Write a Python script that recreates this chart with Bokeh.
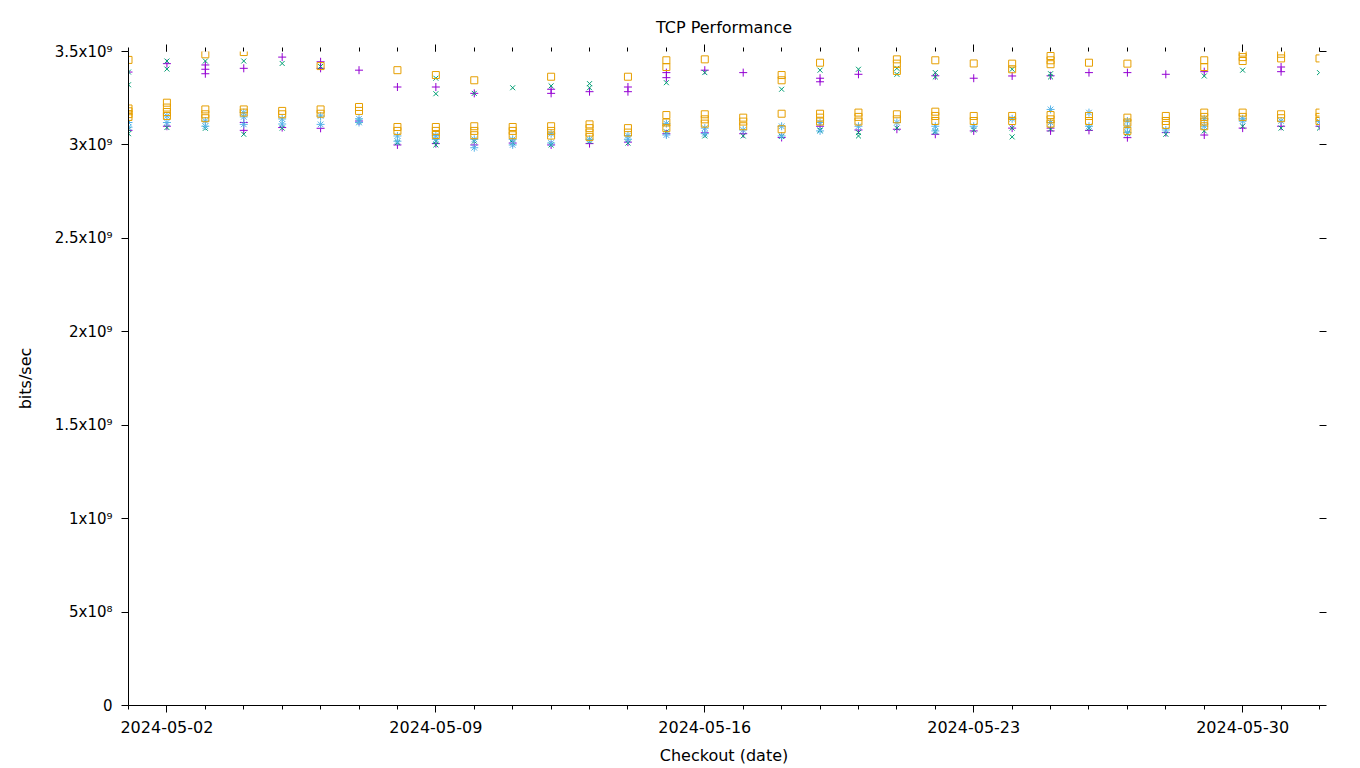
from datetime import datetime
from bokeh.plotting import figure
from bokeh.models import (FixedTicker, DatetimeTickFormatter, DatetimeAxis, LinearAxis,
                          ColumnDataSource, Range1d)
from bokeh.embed import file_html
from bokeh.resources import INLINE

UNIT = 1e9  # values below are in units of 10^9 bits/sec

dates = ["2024-05-01", "2024-05-02", "2024-05-03", "2024-05-04", "2024-05-05", "2024-05-06",
         "2024-05-07", "2024-05-08", "2024-05-09", "2024-05-10", "2024-05-11", "2024-05-12",
         "2024-05-13", "2024-05-14", "2024-05-15", "2024-05-16", "2024-05-17", "2024-05-18",
         "2024-05-19", "2024-05-20", "2024-05-21", "2024-05-22", "2024-05-23", "2024-05-24",
         "2024-05-25", "2024-05-26", "2024-05-27", "2024-05-28", "2024-05-29", "2024-05-30",
         "2024-05-31", "2024-06-01"]

# purple "+"
plus_vals = [
    [3.39, 3.078], [3.435, 3.10], [3.428, 3.405, 3.381], [3.41, 3.12, 3.078],
    [3.47, 3.093], [3.445, 3.41, 3.089], [3.40, 3.128], [3.31, 3.00],
    [3.31, 3.007], [3.276, 3.00], [3.01], [3.298, 3.276, 3.00],
    [3.285, 3.007], [3.31, 3.285, 3.015], [3.387, 3.36, 3.06], [3.40, 3.065],
    [3.387, 3.06], [3.04], [3.357, 3.338, 3.10], [3.378, 3.08],
    [3.084], [3.37, 3.057], [3.357, 3.075], [3.369, 3.09],
    [3.37, 3.075, 3.09], [3.387, 3.078], [3.387, 3.039], [3.378, 3.066],
    [3.392, 3.053], [3.09], [3.417, 3.392, 3.10], [3.10],
]

# green "x"
x_vals = [
    [3.39, 3.322, 3.084, 3.06], [3.449, 3.406, 3.093], [3.449, 3.089], [3.449, 3.057],
    [3.436, 3.09], [3.42], [3.125], [3.012],
    [3.357, 3.274, 3.02, 3.00], [3.276, 3.02], [3.306, 3.012], [3.316, 3.00],
    [3.328, 3.306, 3.02], [3.01], [3.333, 3.07], [3.387, 3.048],
    [3.048], [3.298, 3.045], [3.40, 3.08], [3.405, 3.066, 3.048],
    [3.41, 3.378, 3.09], [3.387, 3.364, 3.07], [3.08], [3.405, 3.09, 3.043],
    [3.381, 3.364, 3.085], [3.09], [3.06], [3.057],
    [3.369, 3.075], [3.40, 3.10], [3.09], [3.387, 3.09],
]

# light blue "*"
star_vals = [
    [3.12, 3.095], [3.155, 3.12], [3.128, 3.10], [3.173, 3.15, 3.11],
    [3.139, 3.112], [3.155, 3.11], [3.14, 3.12], [3.048, 3.02],
    [3.05, 3.03], [3.03, 2.985], [3.03, 3.00], [3.06, 3.01],
    [3.03], [3.05, 3.03], [3.114, 3.053], [3.09, 3.06],
    [3.08], [3.10, 3.048], [3.12, 3.075], [3.10],
    [3.12], [3.10, 3.075], [3.10], [3.14],
    [3.19, 3.12], [3.173, 3.10], [3.128, 3.096, 3.066], [3.08],
    [3.14, 3.10], [3.14, 3.128], [3.128], [3.125],
]

# orange open square
square_vals = [
    [3.455, 3.195, 3.18, 3.165, 3.15], [3.226, 3.20, 3.176, 3.155], [3.485, 3.19, 3.164, 3.143],
    [3.497, 3.19, 3.173], [3.182, 3.164], [3.422, 3.19, 3.167], [3.203, 3.182],
    [3.40, 3.096, 3.075], [3.374, 3.096, 3.075, 3.053], [3.346, 3.10, 3.075, 3.052],
    [3.096, 3.075, 3.052], [3.365, 3.10, 3.075, 3.05], [3.11, 3.09, 3.066, 3.043],
    [3.365, 3.09, 3.066], [3.453, 3.417, 3.16, 3.12, 3.09], [3.458, 3.164, 3.137, 3.114],
    [3.146, 3.125, 3.10], [3.374, 3.346, 3.167, 3.084], [3.44, 3.167, 3.146, 3.125],
    [3.173, 3.15, 3.125], [3.458, 3.435, 3.396, 3.164, 3.137], [3.453, 3.178, 3.155, 3.128],
    [3.436, 3.155, 3.128], [3.435, 3.405, 3.155, 3.128], [3.476, 3.453, 3.432, 3.16, 3.137, 3.114],
    [3.44, 3.155, 3.128], [3.435, 3.146, 3.12, 3.075], [3.155, 3.128, 3.107],
    [3.453, 3.417, 3.173, 3.15, 3.125, 3.10], [3.494, 3.47, 3.449, 3.173, 3.15],
    [3.488, 3.463, 3.164, 3.143], [3.463, 3.173, 3.15, 3.128],
]

y_ticks = [0, 5e8, 1e9, 1.5e9, 2e9, 2.5e9, 3e9, 3.5e9]
y_tick_labels = ["0", "5x10\u2078", "1x10\u2079", "1.5x10\u2079", "2x10\u2079",
                 "2.5x10\u2079", "3x10\u2079", "3.5x10\u2079"]
x_major_ticks = ["2024-05-02", "2024-05-09", "2024-05-16", "2024-05-23", "2024-05-30"]
x_range_ends = ["2024-05-01", "2024-06-01"]

FONT = "DejaVu Sans"


def to_dt(s):
    return datetime.strptime(s, "%Y-%m-%d")


def to_ms(s):
    return (to_dt(s) - datetime(1970, 1, 1)).total_seconds() * 1000.0


def flatten(vals):
    xs, ys = [], []
    for d, day_vals in zip(dates, vals):
        for v in day_vals:
            xs.append(to_dt(d))
            ys.append(v * UNIT)
    return ColumnDataSource(data=dict(x=xs, y=ys))


p = figure(width=1360, height=768, x_axis_type="datetime",
           x_range=Range1d(to_dt(x_range_ends[0]), to_dt(x_range_ends[1])),
           y_range=Range1d(0, 3.5e9),
           output_backend="svg", toolbar_location=None,
           min_border_left=128, min_border_right=41, min_border_top=51, min_border_bottom=63,
           title="TCP Performance")

p.outline_line_color = None
p.xgrid.visible = False
p.ygrid.visible = False
p.background_fill_color = "white"
p.border_fill_color = "white"

p.title.text_font = FONT
p.title.text_font_size = "16px"
p.title.text_font_style = "normal"
p.title.align = "center"
p.title.text_color = "black"
p.title.standoff = 16

x_ticker = FixedTicker(ticks=[to_ms(s) for s in x_major_ticks],
                       minor_ticks=[to_ms(s) for s in dates])
fmt = "%Y-%m-%d"
x_formatter = DatetimeTickFormatter(microseconds=fmt, milliseconds=fmt, seconds=fmt,
                                    minsec=fmt, minutes=fmt, hourmin=fmt, hours=fmt,
                                    days=fmt, months=fmt, years=fmt)
y_ticker = FixedTicker(ticks=y_ticks, minor_ticks=[])

xa = p.xaxis[0]
xa.ticker = x_ticker
xa.formatter = x_formatter
xa.axis_label = "Checkout (date)"

ya = p.yaxis[0]
ya.ticker = y_ticker
ya.major_label_overrides = {float(t): lab for t, lab in zip(y_ticks, y_tick_labels)}
ya.axis_label = "bits/sec"

for ax in (xa, ya):
    ax.axis_line_color = "black"
    ax.major_tick_line_color = "black"
    ax.minor_tick_line_color = "black"
    ax.major_tick_in = 0
    ax.major_tick_out = 7
    ax.minor_tick_in = 0
    ax.minor_tick_out = 4
    ax.major_label_text_font = FONT
    ax.major_label_text_font_size = "16px"
    ax.major_label_text_color = "black"
    ax.axis_label_text_font = FONT
    ax.axis_label_text_font_size = "16px"
    ax.axis_label_text_font_style = "normal"
    ax.axis_label_text_color = "black"

ya.major_label_text_font_size = "15px"
ya.major_label_standoff = 9
ya.axis_label_standoff = 17
xa.major_label_standoff = 8
xa.axis_label_standoff = 10

top = DatetimeAxis(ticker=x_ticker, formatter=x_formatter)
right = LinearAxis(ticker=y_ticker)
for ax in (top, right):
    ax.axis_line_color = None
    ax.major_tick_line_color = "black"
    ax.minor_tick_line_color = "black"
    ax.major_tick_in = 0
    ax.major_tick_out = 7
    ax.minor_tick_in = 0
    ax.minor_tick_out = 4
    ax.major_label_text_font_size = "0px"
    ax.major_label_standoff = 0
p.add_layout(top, "above")
p.add_layout(right, "right")

p.scatter("x", "y", source=flatten(plus_vals), marker="cross", size=8,
          line_color="#9400d3", line_width=1)
p.scatter("x", "y", source=flatten(x_vals), marker="x", size=7,
          line_color="#009e73", line_width=1)
p.scatter("x", "y", source=flatten(star_vals), marker="asterisk", size=8,
          line_color="#56b4e9", line_width=1)
p.scatter("x", "y", source=flatten(square_vals), marker="square", size=7,
          line_color="#e69f00", fill_color=None, line_width=1)

open("out.html", "w").write(file_html(p, INLINE))
